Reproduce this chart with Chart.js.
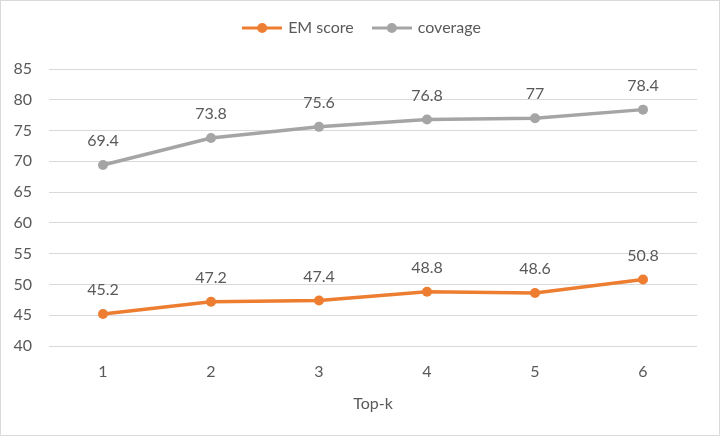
<!DOCTYPE html>
<html>
<head>
<meta charset="utf-8">
<script src="https://cdn.jsdelivr.net/npm/chart.js@4/dist/chart.umd.min.js"></script>
<style>
  html, body { margin: 0; padding: 0; background: #fff; }
  #wrap { width: 720px; height: 436px; position: relative; }
</style>
</head>
<body>
<div id="wrap"><canvas id="chart-line"></canvas></div>
<script>
// data
var topK = ["1", "2", "3", "4", "5", "6"];
var emScore = [45.2, 47.2, 47.4, 48.8, 48.6, 50.8];
var coverage = [69.4, 73.8, 75.6, 76.8, 77, 78.4];
var yTicks = [40, 45, 50, 55, 60, 65, 70, 75, 80, 85];

var textColor = "#595959";
var gridColor = "#d9d9d9";
var orange = "#ED7D31";
var gray = "#A5A5A5";
var fontFamily = "Lato, 'Open Sans', sans-serif";

// excel style legend marks: line with a dot
function legendMark(color) {
  var c = document.createElement("canvas");
  c.width = 40;
  c.height = 12;
  var g = c.getContext("2d");
  g.strokeStyle = color;
  g.lineWidth = 3;
  g.beginPath();
  g.moveTo(0, 6);
  g.lineTo(40, 6);
  g.stroke();
  g.fillStyle = color;
  g.beginPath();
  g.arc(20, 6, 5, 0, Math.PI * 2);
  g.fill();
  return c;
}
var legendMarks = [legendMark(orange), legendMark(gray)];

// labels above every point
var pointLabels = {
  id: "pointLabels",
  afterDatasetsDraw: function (chart) {
    var c = chart.ctx;
    c.save();
    c.font = "16px " + fontFamily;
    c.fillStyle = textColor;
    c.textAlign = "center";
    c.textBaseline = "middle";
    chart.data.datasets.forEach(function (ds, i) {
      chart.getDatasetMeta(i).data.forEach(function (pt, j) {
        c.fillText(String(ds.data[j]), pt.x, pt.y - 24);
      });
    });
    c.restore();
  },
};

// outer frame + extra room under the legend
var frame = {
  id: "frame",
  beforeLayout: function (chart) {
    var lg = chart.legend;
    if (lg && !lg._patched) {
      var fit = lg.fit;
      lg.fit = function () {
        fit.call(this);
        this.height = 69;
      };
      lg._patched = true;
    }
  },
  afterLayout: function (chart) {
    // legend sits a bit right of the plot centre
    chart.legend.left += 9;
    chart.legend.right += 9;
  },
  afterDraw: function (chart) {
    var c = chart.ctx;
    c.save();
    c.strokeStyle = gridColor;
    c.lineWidth = 1;
    c.strokeRect(0.5, 0.5, chart.width - 1, chart.height - 1);
    c.restore();
  },
};

var ctx = document.getElementById("chart-line").getContext("2d");

new Chart(ctx, {
  type: "line",
  data: {
    labels: topK,
    datasets: [
      {
        label: "EM score",
        data: emScore,
        borderColor: orange,
        backgroundColor: orange,
        borderWidth: 3.5,
        pointRadius: 5,
        pointBorderWidth: 0,
        tension: 0,
      },
      {
        label: "coverage",
        data: coverage,
        borderColor: gray,
        backgroundColor: gray,
        borderWidth: 3.5,
        pointRadius: 5,
        pointBorderWidth: 0,
        tension: 0,
      },
    ],
  },
  options: {
    responsive: true,
    maintainAspectRatio: false,
    animation: false,
    layout: { padding: { left: 10, right: 23, top: 0, bottom: 0 } },
    plugins: {
      legend: {
        display: true,
        position: "top",
        labels: {
          usePointStyle: true,
          pointStyleWidth: 36,
          padding: 20,
          color: textColor,
          font: { size: 16, family: fontFamily },
          generateLabels: function (chart) {
            var items = Chart.defaults.plugins.legend.labels.generateLabels(chart);
            items.forEach(function (it, i) {
              it.pointStyle = legendMarks[i];
            });
            return items;
          },
        },
      },
      tooltip: { enabled: false },
    },
    scales: {
      y: {
        min: 40,
        max: 85,
        afterBuildTicks: function (scale) {
          scale.ticks = yTicks.map(function (v) { return { value: v }; });
        },
        afterFit: function (scale) {
          scale.width = 39;
        },
        grid: { color: gridColor, lineWidth: 1, drawTicks: false },
        border: { display: false },
        ticks: {
          padding: 17,
          color: textColor,
          font: { size: 16, family: fontFamily },
        },
      },
      x: {
        offset: true,
        afterFit: function (scale) {
          scale.height = 90;
        },
        grid: { display: false, drawTicks: false, offset: true },
        border: { display: false },
        ticks: {
          padding: 16,
          color: textColor,
          font: { size: 16, family: fontFamily },
        },
        title: {
          display: true,
          text: "Top-k",
          color: textColor,
          font: { size: 16, family: fontFamily },
          padding: { top: 0, bottom: 23 },
        },
      },
    },
  },
  plugins: [pointLabels, frame],
});
</script>
</body>
</html>
